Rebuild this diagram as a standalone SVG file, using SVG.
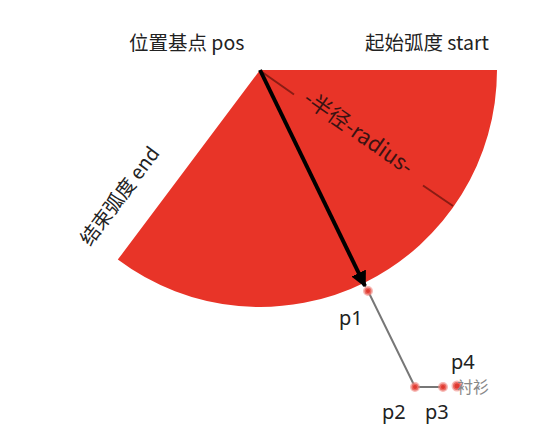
<svg xmlns="http://www.w3.org/2000/svg" width="559" height="442" viewBox="0 0 559 442">
<defs>
<style>
.lbl{font-family:"Noto Sans CJK SC","Noto Sans",sans-serif;font-size:19.5px;fill:#222}
.p{font-family:"Noto Sans","Liberation Sans",sans-serif;font-size:20px;fill:#222}
.dot{fill:#e03a30;stroke:#f08a84;stroke-opacity:0.6;stroke-width:3}
</style>
<marker id="ah" viewBox="0 0 10 10" refX="9" refY="5" markerWidth="4" markerHeight="4" orient="auto" markerUnits="strokeWidth">
<path d="M0,0 L10,5 L0,10 z" fill="#000"/>
</marker>
</defs>
<rect width="559" height="442" fill="#fff"/>
<g id="sector">
<path d="M260,70 L497,70 A237,237 0 0 1 117.8,259.6 Z" fill="#e83428"/>
</g>
<g id="labels">
<text class="lbl" x="129" y="50">位置基点 pos</text>
<text class="lbl" x="365" y="50">起始弧度 start</text>
<text class="lbl" transform="translate(90,247) rotate(-53)">结束弧度 end</text>
<text class="lbl" transform="translate(302,102) rotate(35)" style="fill:#3a1212;font-size:21.5px">-半径-radius-</text>
</g>
<g id="connectors">
<line x1="262" y1="72" x2="294" y2="94.5" stroke="#8a1c14" stroke-width="2"/>
<line x1="423" y1="185.5" x2="453" y2="206" stroke="#8a1c14" stroke-width="2"/>
<line x1="260" y1="70" x2="365" y2="286" stroke="#000" stroke-width="4" marker-end="url(#ah)"/>
<polyline points="368,291 415,387 443,387" fill="none" stroke="#777" stroke-width="2"/>
</g>
<g id="points">
<circle class="dot" cx="368" cy="291" r="3.5"/>
<circle class="dot" cx="415" cy="387" r="3.5"/>
<circle class="dot" cx="443" cy="387" r="3.5"/>
<circle class="dot" cx="457" cy="386" r="4"/>
<text class="p" x="339" y="325">p1</text>
<text class="p" x="382" y="419">p2</text>
<text class="p" x="425" y="419">p3</text>
<text class="p" x="451" y="369">p4</text>
<text x="457" y="393" style="font-family:'Noto Sans CJK SC',sans-serif;font-size:16px;fill:#888">衬衫</text>
</g>
</svg>
